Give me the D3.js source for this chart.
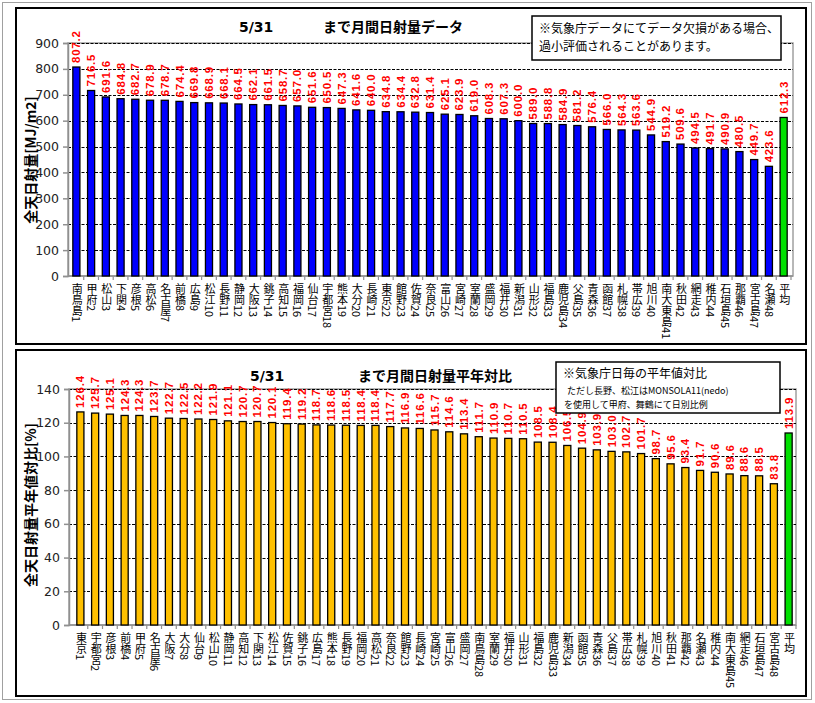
<!DOCTYPE html>
<html><head><meta charset="utf-8">
<script src="https://cdn.jsdelivr.net/npm/d3@7"></script>
<style>
body{margin:0;background:#fff;}
svg{display:block;}
</style></head><body>
<script>
const topCats = ["南鳥島1","甲府2","松山3","下関4","彦根5","高松6","名古屋7","前橋8","広島9","松江10","長野11","静岡12","大阪13","銚子14","高知15","福岡16","仙台17","宇都宮18","熊本19","大分20","長崎21","東京22","館野23","佐賀24","奈良25","富山26","宮崎27","室蘭28","盛岡29","福井30","新潟31","山形32","福島33","鹿児島34","父島35","青森36","函館37","札幌38","帯広39","旭川40","南大東島41","秋田42","網走43","稚内44","石垣島45","那覇46","宮古島47","名瀬48","平均"];
const topValues = [807.2,716.5,691.6,684.8,682.7,678.9,678.7,674.4,669.8,668.9,668.1,664.5,662.1,661.5,658.7,657.0,651.6,650.5,647.3,641.6,640.0,634.8,634.4,632.8,631.4,625.1,623.9,619.0,608.3,607.3,600.0,589.0,588.8,584.9,581.2,576.4,566.0,564.3,563.6,544.9,519.2,509.6,494.5,491.7,490.9,480.5,449.7,423.6,612.3];
const topTicks = [0,100,200,300,400,500,600,700,800,900];

const botCats = ["東京1","宇都宮2","彦根3","前橋4","甲府5","名古屋6","大阪7","大分8","仙台9","松山10","静岡11","高知12","下関13","松江14","佐賀15","銚子16","広島17","熊本18","長野19","福岡20","高松21","奈良22","館野23","長崎24","宮崎25","富山26","盛岡27","南鳥島28","室蘭29","福井30","山形31","福島32","鹿児島33","新潟34","函館35","青森36","父島37","帯広38","札幌39","旭川40","秋田41","那覇42","名瀬43","稚内44","南大東島45","網走46","石垣島47","宮古島48","平均"];
const botValues = [126.4,125.7,125.1,124.3,124.3,123.7,122.7,122.5,122.2,121.9,121.1,120.7,120.7,120.1,119.4,119.2,118.7,118.6,118.5,118.4,118.4,117.7,116.9,116.6,115.7,114.6,113.4,111.7,110.9,110.7,110.5,108.5,108.4,106.5,104.9,103.9,103.0,102.7,101.7,98.7,95.6,93.4,91.7,90.6,89.6,88.6,88.5,83.8,113.9];
const botTicks = [0,20,40,60,80,100,120,140];

const W = 815, H = 703;
const svg = d3.select("body").append("svg").attr("width", W).attr("height", H);
svg.append("rect").attr("x",2.5).attr("y",2.5).attr("width",809).attr("height",697).attr("fill","#fff").attr("stroke","#a0a0a0");

const JP = "'Noto Sans CJK JP', sans-serif";

function panel(cfg){
  const g = svg.append("g");
  g.append("rect").attr("x",cfg.box[0]).attr("y",cfg.box[1]).attr("width",cfg.box[2]).attr("height",cfg.box[3])
    .attr("fill","#fff").attr("stroke","#000").attr("stroke-width",2);
  const y = d3.scaleLinear().domain([0, cfg.max]).range([cfg.y0, cfg.y1]);
  const x = d3.scaleBand().domain(cfg.cats).range(cfg.xr).paddingInner(0.52).paddingOuter(0.26);
  g.append("rect").attr("x",cfg.axisX).attr("y",cfg.y1).attr("width",cfg.right-cfg.axisX).attr("height",cfg.y0-cfg.y1)
    .attr("fill","none").attr("stroke","#a0a0a0").attr("stroke-width",1.5);
  g.selectAll(".grid").data(cfg.ticks.filter(t=>t>0)).join("line")
    .attr("x1",cfg.axisX).attr("x2",cfg.right)
    .attr("y1",d=>Math.round(y(d))+0.5).attr("y2",d=>Math.round(y(d))+0.5)
    .attr("stroke","#000").attr("stroke-width",1.2).attr("stroke-dasharray","3,1.5");
  const ya = d3.axisLeft(y).tickValues(cfg.ticks).tickSize(5).tickPadding(4).tickFormat(d3.format("d"));
  const yg = g.append("g").attr("transform",`translate(${cfg.axisX},0)`).call(ya);
  yg.select(".domain").attr("stroke","#909090").attr("stroke-width",1.5);
  yg.selectAll(".tick line").attr("stroke","#909090").attr("stroke-width",1.5);
  yg.selectAll("text").attr("font-family","'DejaVu Sans', Verdana, sans-serif").attr("font-size",12.5).attr("fill","#222");
  g.append("line").attr("x1",cfg.axisX).attr("x2",cfg.right).attr("y1",cfg.y0).attr("y2",cfg.y0).attr("stroke","#909090").attr("stroke-width",1.5);
  const step = x.step();
  g.selectAll(".xt").data(cfg.cats).join("line")
    .attr("x1",d=>x(d)+x.bandwidth()/2+step/2).attr("x2",d=>x(d)+x.bandwidth()/2+step/2)
    .attr("y1",cfg.y0).attr("y2",cfg.y0+4).attr("stroke","#909090").attr("stroke-width",1.2);
  g.selectAll(".bar").data(cfg.vals).join("rect")
    .attr("x",(d,i)=>x(cfg.cats[i])).attr("width",x.bandwidth())
    .attr("y",d=>y(d)).attr("height",d=>cfg.y0-y(d))
    .attr("fill",(d,i)=>i===cfg.cats.length-1 ? "#00e000" : cfg.color)
    .attr("stroke","#000").attr("stroke-width",1.3);
  g.selectAll(".vl").data(cfg.vals).join("text")
    .attr("transform",(d,i)=>`translate(${x(cfg.cats[i])+x.bandwidth()/2},${y(d)-4}) rotate(-90)`)
    .attr("dominant-baseline","central")
    .attr("font-family","'Liberation Sans', Arial, sans-serif").attr("font-weight","bold").attr("font-size",11.5)
    .attr("letter-spacing",0.8)
    .attr("fill","#ff0000").text(d=>d.toFixed(1));
  g.selectAll(".cl").data(cfg.cats).join("text")
    .attr("x",d=>x(d)+x.bandwidth()/2+1).attr("y",cfg.y0+7)
    .style("writing-mode","vertical-rl").style("text-orientation","mixed")
    .attr("font-family",JP).attr("font-size",11).attr("fill","#000").text(d=>d);
  g.append("text").attr("transform",`translate(${cfg.titleX},${cfg.titleY}) rotate(-90)`)
    .attr("text-anchor","middle").attr("dominant-baseline","central")
    .attr("font-family",JP).attr("font-weight","bold").attr("font-size",14).text(cfg.ytitle);
  g.append("text").attr("x",cfg.dateX).attr("y",cfg.headY).attr("font-family","'DejaVu Sans', sans-serif").attr("font-weight","bold").attr("font-size",14).text("5/31");
  g.append("text").attr("x",cfg.headX).attr("y",cfg.headY).attr("font-family",JP).attr("font-weight","bold").attr("font-size",14).text(cfg.title);
  g.append("rect").attr("x",cfg.note[0]).attr("y",cfg.note[1]).attr("width",cfg.note[2]).attr("height",cfg.note[3])
    .attr("fill","#fff").attr("stroke","#000").attr("stroke-width",1.5);
  cfg.noteLines.forEach(l=>{
    g.append("text").attr("x",l.x).attr("y",l.y).attr("font-family",JP).attr("font-size",l.s).text(l.t);
  });
}

panel({
  box:[16,8,790,336], max:900, y0:276, y1:43, xr:[69,791], axisX:68, right:793,
  cats:topCats, vals:topValues, ticks:topTicks, color:"#0000ff",
  ytitle:"全天日射量[MJ/m2]", titleX:30, titleY:160,
  dateX:239, headX:323, headY:32, title:"まで月間日射量データ",
  note:[532,16,249,44],
  noteLines:[{x:539,y:33,s:12,t:"※気象庁データにてデータ欠損がある場合、"},{x:539,y:51,s:12,t:"過小評価されることがあります。"}]
});
panel({
  box:[16,350,790,346], max:140, y0:625, y1:389, xr:[73,796], axisX:69, right:796,
  cats:botCats, vals:botValues, ticks:botTicks, color:"#ffc000",
  ytitle:"全天日射量平年値対比[%]", titleX:30, titleY:505,
  dateX:250, headX:358, headY:381, title:"まで月間日射量平年対比",
  note:[556,362,224,51],
  noteLines:[{x:563,y:378,s:12,t:"※気象庁日毎の平年値対比"},{x:567,y:394,s:9,t:"ただし長野、松江はMONSOLA11(nedo)"},{x:564,y:408,s:9,t:"を使用して甲府、舞鶴にて日別比例"}]
});
</script>
</body></html>
